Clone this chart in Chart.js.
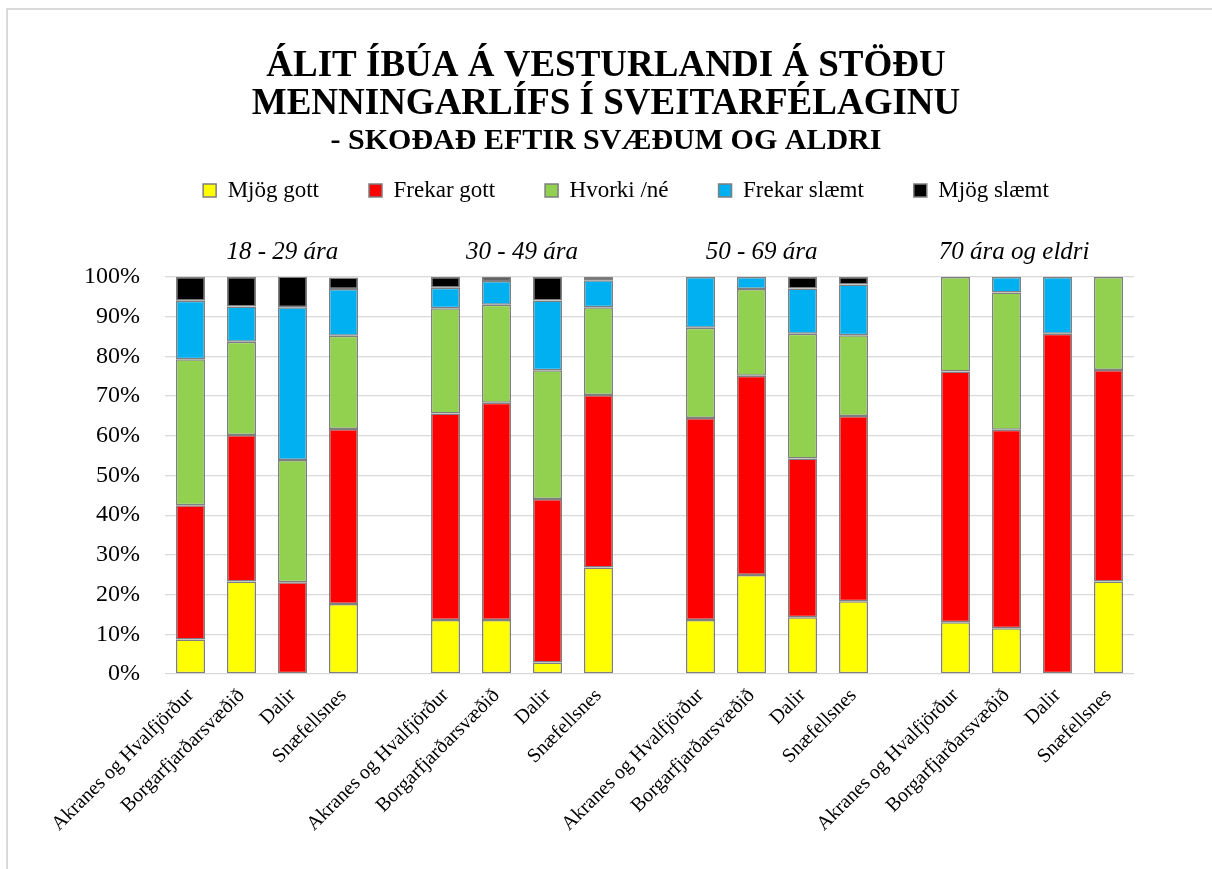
<!DOCTYPE html>
<html lang="is">
<head>
<meta charset="UTF-8">
<title>Álit íbúa á Vesturlandi á stöðu menningarlífs</title>
<script src="https://cdn.jsdelivr.net/npm/chart.js"></script>
<style>
    html, body {
        margin: 0;
        padding: 0;
        background: #fff;
        overflow: hidden;
    }
    #frame {
        position: absolute;
        left: 6px;
        top: 8px;
        width: 1400px;
        height: 1000px;
        border: 2px solid #d9d9d9;
    }
    #wrap {
        position: absolute;
        left: 0;
        top: 0;
        width: 1212px;
        height: 869px;
    }
</style>
</head>
<body>
<div id="frame"></div>
<div id="wrap"><canvas id="chart"></canvas></div>
<script>
    // svæði, tómt bil milli aldurshópa
    const categories = [
        'Akranes og Hvalfjörður', 'Borgarfjarðarsvæðið', 'Dalir', 'Snæfellsnes', '',
        'Akranes og Hvalfjörður', 'Borgarfjarðarsvæðið', 'Dalir', 'Snæfellsnes', '',
        'Akranes og Hvalfjörður', 'Borgarfjarðarsvæðið', 'Dalir', 'Snæfellsnes', '',
        'Akranes og Hvalfjörður', 'Borgarfjarðarsvæðið', 'Dalir', 'Snæfellsnes'
    ];
    const ageGroups = ['18 - 29 ára', '30 - 49 ára', '50 - 69 ára', '70 ára og eldri'];
    const yTicks = [0, 10, 20, 30, 40, 50, 60, 70, 80, 90, 100];

    const mjogGott     = [8.7, 23.3, 0, 17.6, null, 13.6, 13.6, 2.9, 26.8, null, 13.6, 24.9, 14.3, 18.3, null, 13.0, 11.5, 0, 23.3];
    const frekarGott   = [33.8, 36.9, 23.1, 44.1, null, 52.0, 54.7, 41.2, 43.5, null, 50.9, 50.2, 40.0, 46.7, null, 63.2, 50.0, 85.7, 53.3];
    const hvorkiNe     = [36.8, 23.5, 30.8, 23.5, null, 26.5, 24.7, 32.4, 22.1, null, 22.7, 21.9, 31.4, 20.3, null, 23.8, 34.6, 0, 23.4];
    const frekarSlaemt = [14.7, 8.9, 38.5, 11.8, null, 5.2, 6.0, 17.6, 6.8, null, 12.8, 3.0, 11.4, 12.8, null, 0, 3.9, 14.3, 0];
    const mjogSlaemt   = [6.0, 7.4, 7.7, 2.9, null, 2.7, 1.0, 5.9, 0.8, null, 0, 0, 2.9, 1.9, null, 0, 0, 0, 0];

    const serif = "'Liberation Serif', 'Times New Roman', serif";
    const edge = '#7f7f7f';

    // fyrirsagnir aldurshópa ofan við súlurnar
    const groupLabels = {
        id: 'groupLabels',
        afterDraw(chart) {
            const ctx = chart.ctx;
            const x = chart.scales.x;
            const at = [1.8, 6.5, 11.2, 16.15];
            ctx.save();
            ctx.font = "italic 25px " + serif;
            ctx.fillStyle = '#000';
            ctx.textAlign = 'center';
            ctx.textBaseline = 'middle';
            ageGroups.forEach((t, i) => {
                ctx.fillText(t, x.getPixelForValue(at[i]), chart.chartArea.top - 25);
            });
            ctx.restore();
        }
    };

    // meira bil undir skýringum og smá hliðrun til hægri
    const legendGap = {
        id: 'legendGap',
        beforeInit(chart) {
            const fit = chart.legend.fit;
            chart.legend.fit = function () {
                fit.bind(chart.legend)();
                this.height += 65;
            };
        },
        afterLayout(chart) {
            chart.legend.left += 20;
            chart.legend.right += 20;
        }
    };

    function ds(label, data, color) {
        return {
            label: label,
            data: data,
            backgroundColor: color,
            borderColor: edge,
            borderWidth: 1.5,
            borderSkipped: false
        };
    }

    new Chart(document.getElementById('chart'), {
        type: 'bar',
        data: {
            labels: categories,
            datasets: [
                ds('Mjög gott', mjogGott, '#ffff00'),
                ds('Frekar gott', frekarGott, '#ff0000'),
                ds('Hvorki /né', hvorkiNe, '#92d050'),
                ds('Frekar slæmt', frekarSlaemt, '#00b0f0'),
                ds('Mjög slæmt', mjogSlaemt, '#000000')
            ]
        },
        options: {
            responsive: true,
            maintainAspectRatio: false,
            animation: false,
            datasets: {
                bar: { categoryPercentage: 1, barPercentage: 0.57 }
            },
            layout: {
                padding: { top: 37, left: 78, right: 78, bottom: 31 }
            },
            plugins: {
                title: {
                    display: true,
                    text: ['ÁLIT ÍBÚA Á VESTURLANDI Á STÖÐU', 'MENNINGARLÍFS Í SVEITARFÉLAGINU'],
                    color: '#000',
                    font: { family: serif, size: 37, weight: 'bold', lineHeight: 1.027 },
                    padding: { top: 10, bottom: 0 }
                },
                subtitle: {
                    display: true,
                    text: '- SKOÐAÐ EFTIR SVÆÐUM OG ALDRI',
                    color: '#000',
                    font: { family: serif, size: 30, weight: 'bold', lineHeight: 1.067 },
                    padding: { top: 2, bottom: -28 }
                },
                legend: {
                    position: 'top',
                    labels: {
                        color: '#000',
                        font: { family: serif, size: 23 },
                        boxWidth: 13,
                        boxHeight: 13,
                        padding: 50
                    }
                },
                tooltip: { enabled: false }
            },
            scales: {
                x: {
                    stacked: true,
                    grid: { display: false },
                    border: { display: false },
                    ticks: {
                        color: '#000',
                        font: { family: serif, size: 20 },
                        maxRotation: 45,
                        minRotation: 45,
                        autoSkip: false,
                        padding: 2
                    }
                },
                y: {
                    stacked: true,
                    min: 0,
                    max: 100,
                    afterBuildTicks(axis) {
                        axis.ticks = yTicks.map(v => ({ value: v }));
                    },
                    afterFit(axis) {
                        axis.width = 87;
                    },
                    grid: { color: '#d9d9d9', lineWidth: 1.3, drawTicks: false },
                    border: { display: false },
                    ticks: {
                        color: '#000',
                        font: { family: serif, size: 24 },
                        padding: 25,
                        callback: v => v + '%'
                    }
                }
            }
        },
        plugins: [groupLabels, legendGap]
    });
</script>
</body>
</html>
